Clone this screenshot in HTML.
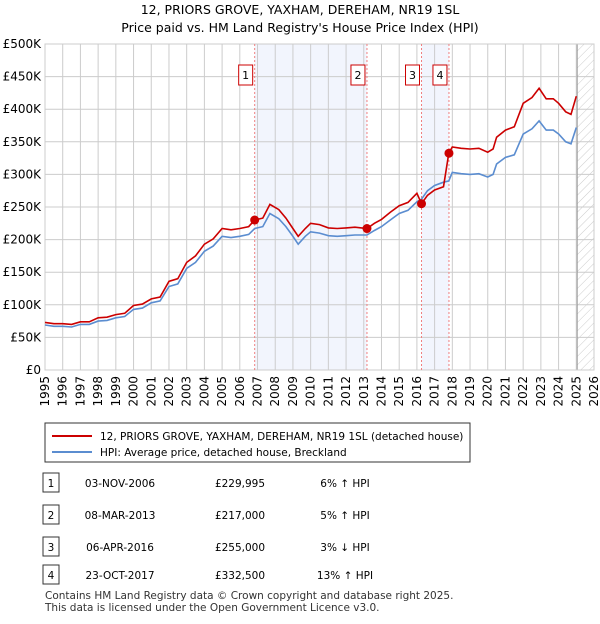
<!DOCTYPE html>
<html><head><meta charset="utf-8"><style>
body{margin:0;background:#fff;font-family:"DejaVu Sans","Liberation Sans",sans-serif;}
#wrap{position:relative;width:600px;height:620px;}
</style></head><body>
<div id="wrap">
<svg id="chart" width="600" height="620" xmlns="http://www.w3.org/2000/svg" font-family="DejaVu Sans, Liberation Sans, sans-serif">
<text x="300" y="14" text-anchor="middle" font-size="12.5">12, PRIORS GROVE, YAXHAM, DEREHAM, NR19 1SL</text>
<text x="300" y="32" text-anchor="middle" font-size="12.5">Price paid vs. HM Land Registry's House Price Index (HPI)</text>
<g id="plot"></g>
<g>
<rect x="45" y="423" width="425" height="39" fill="#fff" stroke="#333" stroke-width="1"/>
<line x1="52" y1="436" x2="92" y2="436" stroke="#cc0000" stroke-width="2"/>
<text x="100" y="440" font-size="10.5">12, PRIORS GROVE, YAXHAM, DEREHAM, NR19 1SL (detached house)</text>
<line x1="52" y1="452" x2="92" y2="452" stroke="#5b8dd0" stroke-width="2"/>
<text x="100" y="456" font-size="10.5">HPI: Average price, detached house, Breckland</text>
</g>
<g id="table" font-size="10.5"></g>
<text x="45" y="599" font-size="10.5" fill="#333">Contains HM Land Registry data © Crown copyright and database right 2025.</text>
<text x="45" y="611" font-size="10.5" fill="#333">This data is licensed under the Open Government Licence v3.0.</text>
</svg>
</div>
<script>
const years=[1995,1995.5,1996,1996.5,1997,1997.5,1998,1998.5,1999,1999.5,2000,2000.5,2001,2001.5,2002,2002.5,2003,2003.5,2004,2004.5,2005,2005.5,2006,2006.5,2006.84,2007.3,2007.7,2008.2,2008.6,2009.0,2009.3,2009.7,2010,2010.5,2011,2011.5,2012,2012.5,2013.18,2013.6,2014,2014.5,2015,2015.5,2016,2016.26,2016.6,2017,2017.5,2017.8,2018,2018.5,2019,2019.5,2020,2020.3,2020.5,2021,2021.5,2022,2022.5,2022.9,2023.3,2023.7,2024,2024.4,2024.7,2025];
const hpi=[69,67,67,66,70,70,75,76,80,82,93,95,103,106,128,132,156,165,182,190,205,203,205,208,217,220,240,232,220,205,193,205,212,210,206,205,206,207,207,214,220,230,240,245,258,262,275,283,288,290,303,301,300,301,296,300,316,326,330,362,370,382,368,368,362,350,347,372];
const price=[73,71,71,70,74,74,80,81,85,87,99,101,109,112,136,140,165,175,193,201,217,215,217,220,230,233,254,246,233,217,205,217,225,223,218,217,218,219,217,225,231,242,252,257,271,255,268,276,281,332.5,342,340,339,340,334,339,357,368,373,409,418,432,416,416,409,396,392,420];
const saleLabels=["1","2","3","4"];
const saleYears=[2006.84,2013.18,2016.26,2017.81];
const salePrices=[229.995,217,255,332.5];
const saleDates=["03-NOV-2006","08-MAR-2013","06-APR-2016","23-OCT-2017"];
const salePriceText=["£229,995","£217,000","£255,000","£332,500"];
const saleHpiText=["6% ↑ HPI","5% ↑ HPI","3% ↓ HPI","13% ↑ HPI"];
const yTicks=[0,50,100,150,200,250,300,350,400,450,500];
const yTickLabels=["£0","£50K","£100K","£150K","£200K","£250K","£300K","£350K","£400K","£450K","£500K"];
const xTicks=[1995,1996,1997,1998,1999,2000,2001,2002,2003,2004,2005,2006,2007,2008,2009,2010,2011,2012,2013,2014,2015,2016,2017,2018,2019,2020,2021,2022,2023,2024,2025,2026];

const NS="http://www.w3.org/2000/svg";
const L=45,R=594,T=44,B=370;
const xs=y=>L+(y-1995)/(2026-1995)*(R-L);
const ys=v=>B-v/500*(B-T);
const plot=document.getElementById('plot');
function mk(tag,attrs,parent){const e=document.createElementNS(NS,tag);for(const k in attrs)e.setAttribute(k,attrs[k]);(parent||plot).appendChild(e);return e;}

let s1=mk('rect',{x:xs(saleYears[0]),y:T,width:xs(saleYears[1])-xs(saleYears[0]),height:B-T,fill:'#f2f5fd'});


let s2=mk('rect',{x:xs(saleYears[2]),y:T,width:xs(saleYears[3])-xs(saleYears[2]),height:B-T,fill:'#f2f5fd'});


const defs=mk('defs',{});
const pat=mk('pattern',{id:'hatch',width:6,height:6,patternUnits:'userSpaceOnUse',patternTransform:'rotate(45)'},defs);
mk('line',{x1:0,y1:0,x2:0,y2:6,stroke:'#ccc','stroke-width':1},pat);
let hz=mk('rect',{x:xs(2025.05),y:T,width:R-xs(2025.05),height:B-T,fill:'url(#hatch)'});



yTicks.forEach((v,i)=>{
 const g=mk('line',{x1:L,x2:R,y1:ys(v),y2:ys(v),stroke:'#cccccc','stroke-width':1});
 
 
 const t=mk('text',{x:L-4,y:ys(v)+4,'text-anchor':'end','font-size':12});
 t.textContent=yTickLabels[i];
 
 
});
xTicks.forEach(y=>{
 const g=mk('line',{x1:xs(y),x2:xs(y),y1:T,y2:B,stroke:'#cccccc','stroke-width':1});
 
 
 const t=mk('text',{x:0,y:0,'text-anchor':'end','font-size':12,transform:`translate(${xs(y)+4},${B+6}) rotate(-90)`});
 t.textContent=y;
 
 
});
mk('line',{x1:xs(2025.05),x2:xs(2025.05),y1:T,y2:B,stroke:'#999','stroke-width':1});
mk('rect',{x:L,y:T,width:R-L,height:B-T,fill:'none',stroke:'#cccccc'});

saleYears.forEach((y,i)=>{
 const l=mk('line',{x1:xs(y),x2:xs(y),y1:T,y2:B,stroke:'#f08080','stroke-width':1,'stroke-dasharray':'2,2'});
 
 
 const r=mk('rect',{x:xs(y)-16,y:65,width:14,height:20,fill:'#fff',stroke:'#cc0000'});
 
 
 const t=mk('text',{x:xs(y)-9,y:79,'text-anchor':'middle','font-size':11});
 t.textContent=saleLabels[i];
 
 
});

const pts=arr=>arr.map((v,i)=>xs(years[i]).toFixed(1)+','+ys(v).toFixed(1)).join(' ');
const hl=mk('polyline',{points:pts(hpi),fill:'none',stroke:'#5b8dd0','stroke-width':1.6});


const pl=mk('polyline',{points:pts(price),fill:'none',stroke:'#cc0000','stroke-width':1.6});


saleYears.forEach((y,i)=>{
 const c=mk('circle',{cx:xs(y),cy:ys(salePrices[i]),r:4.5,fill:'#cc0000'});
 
 
});

const tb=document.getElementById('table');
const rowY=[483,515,547,575];
saleLabels.forEach((s,i)=>{
 const y=rowY[i];
 const r=mk('rect',{x:43,y:y-10,width:16,height:19,fill:'#fff',stroke:'#333'},tb);
 
 
 const vals=[[51,s],[120,saleDates[i]],[240,salePriceText[i]],[345,saleHpiText[i]]];
 vals.forEach(v=>{
  const t=mk('text',{x:v[0],y:y+4,'text-anchor':'middle'},tb);
  t.textContent=v[1];
  
  
 });
});
</script>
</body></html>
